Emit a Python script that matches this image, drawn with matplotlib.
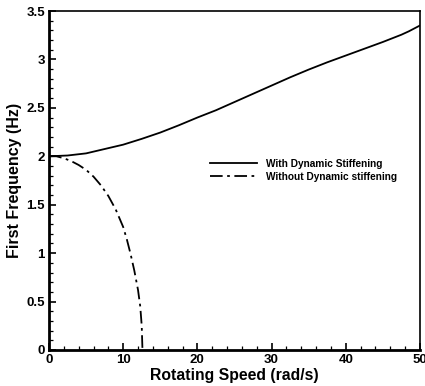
import matplotlib
matplotlib.use('Agg')
import matplotlib.pyplot as plt
import numpy as np

plt.rcParams['font.family'] = ['Liberation Sans', 'DejaVu Sans']
plt.rcParams['font.weight'] = 'bold'

# values
speed_with = [0, 2.5, 5, 7.5, 10, 12.5, 15, 17.5, 20, 22.5, 25, 27.5, 30, 32.5, 35, 37.5, 40, 42.5, 45, 47.5, 48.5, 50]
freq_with = [2.00, 2.008, 2.03, 2.075, 2.12, 2.18, 2.245, 2.32, 2.40, 2.475, 2.56, 2.645, 2.73, 2.815, 2.895,
             2.97, 3.04, 3.11, 3.18, 3.255, 3.29, 3.35]

speed_without = [0, 1, 2, 3, 4, 5, 6, 7, 8, 9, 10, 10.5, 11, 11.5, 12, 12.3, 12.5, 12.6]
freq_without = [2.00, 2.00, 1.98, 1.95, 1.91, 1.86, 1.79, 1.70, 1.59, 1.45, 1.27, 1.14, 0.99, 0.82, 0.62, 0.45, 0.25, 0.0]

fig = plt.figure(figsize=(4.25, 3.86), dpi=100)
ax = fig.add_axes([0.1153, 0.0933, 0.8727, 0.8782])

ax.plot(speed_with, freq_with, 'k-', lw=1.3, label='With Dynamic Stiffening')
ax.plot(speed_without, freq_without, 'k', lw=1.3, linestyle=(0, (7, 2.5, 1.5, 2.5)),
        label='Without Dynamic stiffening')

ax.set_xlim(0, 50)
ax.set_ylim(0, 3.5)
ax.set_xticks([0, 10, 20, 30, 40, 50])
ax.set_yticks([0, 0.5, 1, 1.5, 2, 2.5, 3, 3.5])
ax.set_yticklabels(['0', '0.5', '1', '1.5', '2', '2.5', '3', '3.5'])
ax.set_xticks(np.arange(0, 51, 2), minor=True)
ax.set_yticks(np.arange(0, 3.51, 0.1), minor=True)
ax.tick_params(which='major', direction='in', length=5, width=1.2, labelsize=9.5, pad=3)
ax.tick_params(which='minor', direction='in', length=3, width=0.9)

for s in ['left', 'bottom']:
    ax.spines[s].set_linewidth(2)
for s in ['top', 'right']:
    ax.spines[s].set_linewidth(1.2)

ax.set_xlabel('Rotating Speed (rad/s)', fontsize=11.3, fontweight='bold', labelpad=1)
ax.set_ylabel('First Frequency (Hz)', fontsize=11.5, fontweight='bold', labelpad=3)

leg = ax.legend(loc='center left', bbox_to_anchor=(0.41, 0.53), frameon=False,
                fontsize=7.3, handlelength=4.6, handletextpad=0.9, labelspacing=0.3)
for t in leg.get_texts():
    t.set_fontweight('bold')

fig.savefig('out.png', dpi=100)
